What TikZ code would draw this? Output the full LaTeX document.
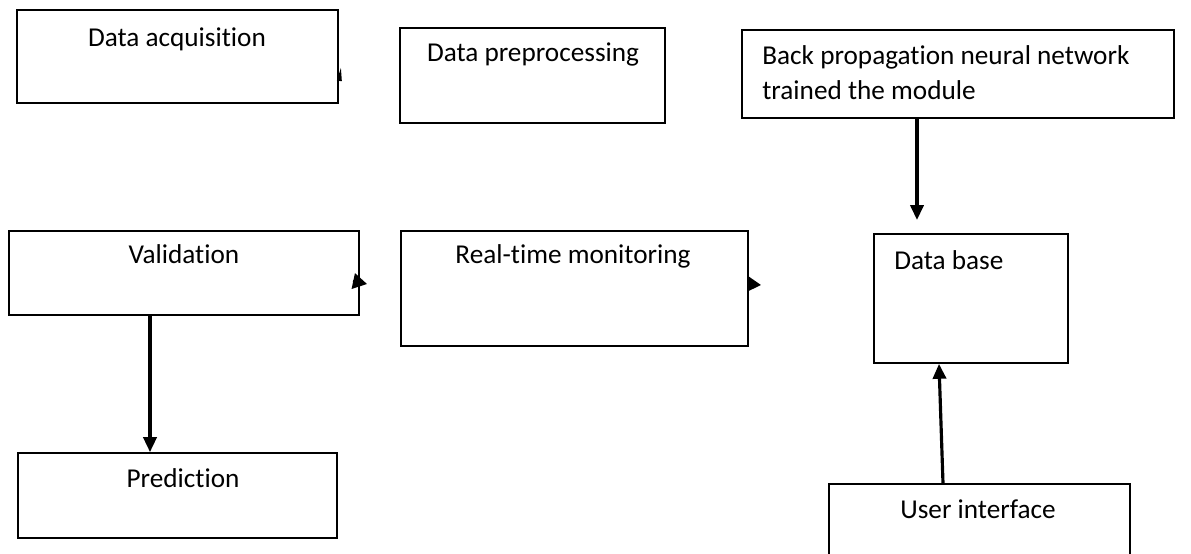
\documentclass[tikz,border=0pt]{standalone}
\usepackage{fontspec}
\setmainfont{Carlito}[Ligatures=NoCommon]
\usetikzlibrary{arrows.meta}
\tikzset{
    box/.style={rectangle, draw, line width=1pt, inner sep=0mm},
    boxtext/.style={font=\fontsize{15.5}{20}\selectfont, inner sep=0mm},
    flow/.style={line width=1.8pt, -{Triangle[length=8.5pt, width=7.5pt]}}
}

\begin{document}
\begin{tikzpicture}[x=0.02cm, y=-0.02cm]
        \useasboundingbox (0,0) rectangle (1191,554);
        % boxes
        \node (acq) [box, minimum width=6.42cm, minimum height=1.86cm] at (177.5,56.5) {};
        \node (pre) [box, minimum width=5.30cm, minimum height=1.90cm] at (532.5,75.5) {};
        \node (bpnn) [box, minimum width=8.64cm, minimum height=1.76cm] at (958,74) {};
        \node (val) [box, minimum width=7.00cm, minimum height=1.68cm] at (184,273) {};
        \node (rtm) [box, minimum width=6.94cm, minimum height=2.30cm] at (574.5,288.5) {};
        \node (db) [box, minimum width=3.88cm, minimum height=2.58cm] at (971,298.5) {};
        \node (pred) [box, minimum width=6.38cm, minimum height=1.70cm] at (177.5,495.5) {};
        \node (ui) [box, minimum width=6.02cm, minimum height=1.60cm] at (979.5,524) {};
        % texts
        \node (acqtxt) [boxtext, anchor=base] at (177,47) {Data acquisition};
        \node (pretxt) [boxtext, anchor=base] at (533,62) {Data preprocessing};
        \node (bpnntxt) [boxtext, anchor=base west] at (762,65) {Back propagation neural network};
        \node (bpnntxt2) [boxtext, anchor=base west] at (762,100) {trained the module};
        \node (valtxt) [boxtext, anchor=base] at (184,263) {Validation};
        \node (rtmtxt) [boxtext, anchor=base] at (573,263) {Real-time monitoring};
        \node (dbtxt) [boxtext, anchor=base west] at (894,269) {Data base};
        \node (predtxt) [boxtext, anchor=base] at (183,487) {Prediction};
        \node (uitxt) [boxtext, anchor=base] at (978,518) {User interface};
        % arrow ends
        \coordinate (bpnnA) at (917,118);
        \coordinate (dbA) at (917,220);
        \coordinate (valA) at (150,315);
        \coordinate (predA) at (150,453);
        \coordinate (uiA) at (943,484);
        \coordinate (dbB) at (939,363);
        \draw[flow] (bpnn.south -| bpnnA) -- (dbA);
        \draw[flow] (val.south -| valA) -- (pred.north -| predA);
        \draw[flow] (ui.north -| uiA) -- (db.south -| dbB);
        % stray heads on the box edges
        \coordinate (acqB) at (339.5,80);
        \coordinate (acqC) at (341,67);
        \coordinate (valB) at (353,281);
        \coordinate (valC) at (367,284);
        \coordinate (rtmB) at (748,284);
        \coordinate (rtmC) at (761,285);
        \draw[line width=1pt, -{Triangle[length=8pt, width=2.5pt]}] (acqB) -- (acqC);
        \draw[line width=1pt, -{Triangle[length=8pt, width=9pt]}] (valB) -- (valC);
        \draw[line width=1pt, -{Triangle[length=7.5pt, width=8.5pt]}] (rtmB) -- (rtmC);
\end{tikzpicture}
\end{document}
